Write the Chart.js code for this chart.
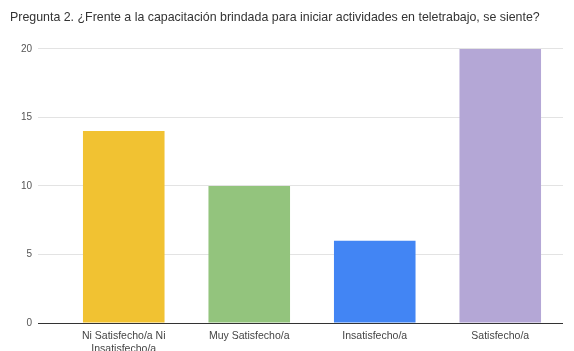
<!DOCTYPE html>
<html>
<head>
<meta charset="utf-8">
<script src="https://cdn.jsdelivr.net/npm/chart.js@4"></script>
<style>
  html, body { margin: 0; padding: 0; background: #fff; }
  #wrap { width: 574px; height: 351px; }
</style>
</head>
<body>
<div id="wrap"><canvas id="chart" width="574" height="351"></canvas></div>
<script>
const categories = [['Ni Satisfecho/a Ni', 'Insatisfecho/a'], 'Muy Satisfecho/a', 'Insatisfecho/a', 'Satisfecho/a'];
const counts = [14, 10, 6, 20];
const barColors = ['#f1c232', '#93c47d', '#4285f4', '#b4a7d6'];
const yTicks = [0, 5, 10, 15, 20];

const font = 'Liberation Sans, Arial, sans-serif';

new Chart(document.querySelector('#chart').getContext('2d'), {
    type: 'bar',
    data: {
        labels: categories,
        datasets: [{
            label: 'Pregunta 2',
            data: counts,
            backgroundColor: barColors,
            borderWidth: 0,
            categoryPercentage: 1,
            barPercentage: 0.65
        }]
    },
    options: {
        responsive: false,
        animation: false,
        layout: { padding: { left: 10, right: 11, top: 0, bottom: 0 } },
        plugins: {
            legend: { display: false },
            tooltip: { enabled: false },
            title: {
                display: true,
                text: 'Pregunta 2. ¿Frente a la capacitación brindada para iniciar actividades en teletrabajo, se siente?',
                align: 'start',
                color: '#333',
                font: { family: font, size: 12.4, weight: 'normal' },
                padding: { top: 10, bottom: 24 }
            }
        },
        scales: {
            x: {
                grid: { display: false, drawTicks: false },
                border: { display: false },
                ticks: {
                    color: '#444',
                    font: { family: font, size: 10.5 },
                    padding: 7,
                    maxRotation: 0,
                    autoSkip: false
                },
                afterFit: scale => { scale.height = 28; }
            },
            y: {
                min: 0,
                max: 20,
                afterBuildTicks: scale => { scale.ticks = yTicks.map(v => ({ value: v })); },
                grid: {
                    color: ctx => (ctx.tick && ctx.tick.value === 0) ? '#333' : '#e3e3e3',
                    tickLength: 23,
                    lineWidth: 1
                },
                border: { display: false },
                ticks: {
                    color: '#555',
                    font: { family: font, size: 10 },
                    padding: 6
                },
                afterFit: scale => { scale.width = 51; }
            }
        }
    }
});
</script>
</body>
</html>
